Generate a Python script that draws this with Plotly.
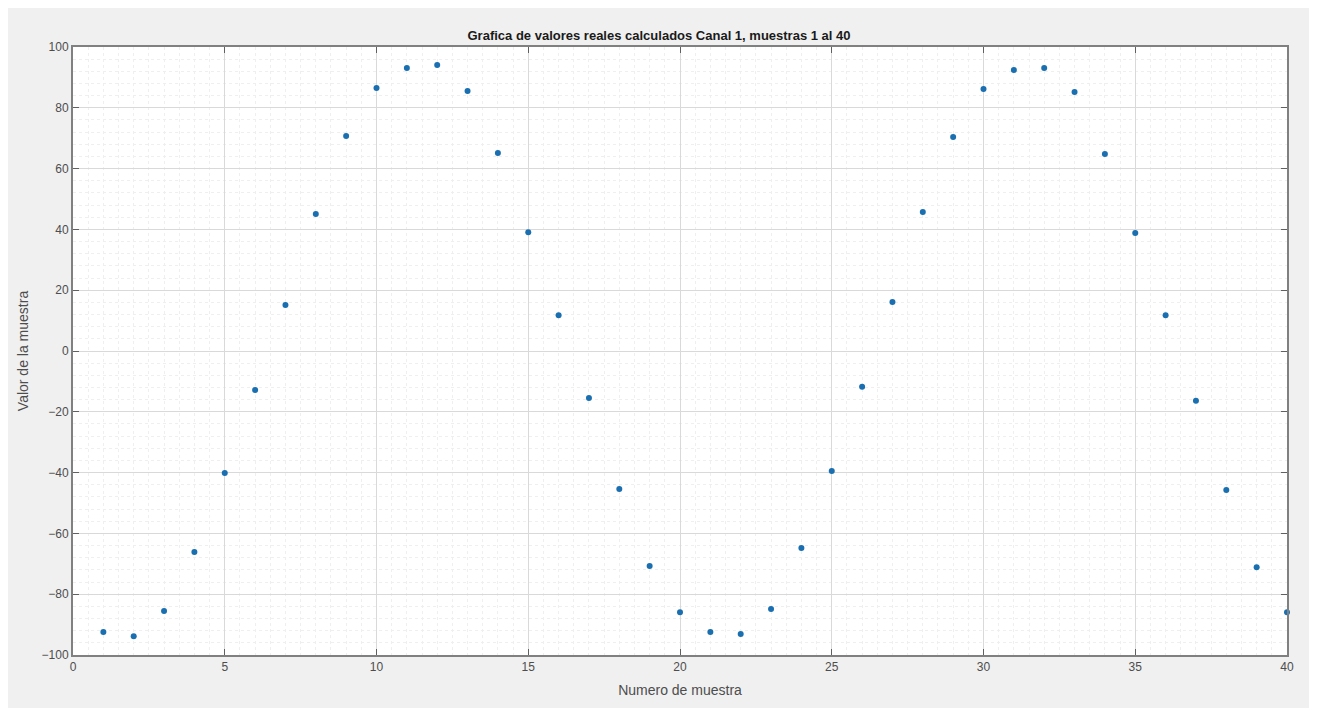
import plotly.graph_objects as go

muestra = list(range(1, 41))
valores = [-92.4, -93.8, -85.5, -66.1, -40.1, -12.8, 15.1, 45.1, 70.7, 86.5,
           93.1, 94.1, 85.5, 65.1, 39.1, 11.8, -15.5, -45.4, -70.7, -85.9,
           -92.4, -93.1, -84.9, -64.8, -39.5, -11.8, 16.1, 45.7, 70.4, 86.2,
           92.4, 93.1, 85.2, 64.8, 38.8, 11.8, -16.4, -45.7, -71.1, -85.9]

x_ticks = [0, 5, 10, 15, 20, 25, 30, 35, 40]
y_ticks = [-100, -80, -60, -40, -20, 0, 20, 40, 60, 80, 100]

titulo = "Grafica de valores reales calculados Canal 1, muestras 1 al 40"
x_label = "Numero de muestra"
y_label = "Valor de la muestra"

fig = go.Figure()
fig.add_trace(go.Scatter(
    x=muestra, y=valores, mode="markers",
    marker=dict(symbol="circle", size=6, color="#1a6fb0",
                line=dict(width=0)),
    cliponaxis=False, showlegend=False,
))

font_fam = "Liberation Sans, Arial, sans-serif"
axis_common = dict(
    showline=True, linecolor="#808080", linewidth=2, mirror="ticks",
    ticks="inside", ticklen=6, tickcolor="#606060", tickwidth=1,
    gridcolor="#d9d9d9", gridwidth=1, zeroline=False,
    tickfont=dict(family=font_fam, size=12, color="#4d4d4d"),
)

fig.update_xaxes(
    range=[0, 40], tickvals=x_ticks,
    title=dict(text=x_label, font=dict(family=font_fam, size=14, color="#4d4d4d"), standoff=12),
    minor=dict(dtick=0.5, showgrid=True, gridcolor="#efefef", griddash="dot", ticks=""),
    **axis_common,
)
fig.update_yaxes(
    range=[-100, 100], tickvals=y_ticks,
    title=dict(text=y_label, font=dict(family=font_fam, size=14, color="#4d4d4d"), standoff=10),
    minor=dict(dtick=4, showgrid=True, gridcolor="#efefef", griddash="dot", ticks=""),
    **axis_common,
)

fig.update_layout(
    width=1302, height=700,
    margin=dict(l=65, r=23, t=39, b=53),
    paper_bgcolor="#f0f0f0",
    plot_bgcolor="white",
    title=dict(text="<b>" + titulo + "</b>", x=0.5, xanchor="center",
               y=1 - 27 / 700, yanchor="middle",
               font=dict(family=font_fam, size=13, color="#1a1a1a")),
)

fig.write_html("out.html")
